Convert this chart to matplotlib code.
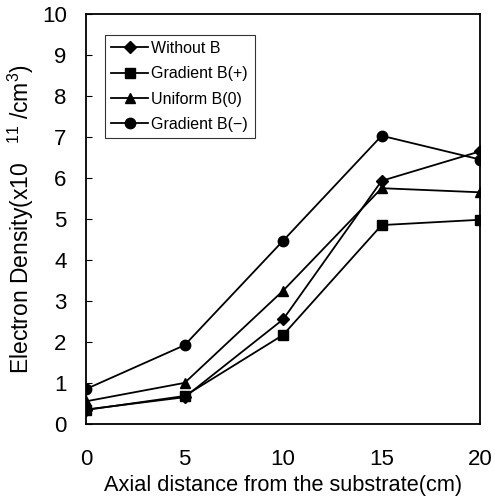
import matplotlib
matplotlib.use("Agg")
import matplotlib.pyplot as plt

plt.rcParams['font.family'] = ['Liberation Sans', 'DejaVu Sans']
plt.rcParams['mathtext.fontset'] = 'custom'
plt.rcParams['mathtext.rm'] = 'Liberation Sans'

distance = [0, 5, 10, 15, 20]
without_b = [0.35, 0.65, 2.55, 5.93, 6.65]
gradient_plus = [0.34, 0.68, 2.17, 4.85, 4.98]
uniform_b0 = [0.55, 1.0, 3.25, 5.75, 5.65]
gradient_minus = [0.85, 1.92, 4.47, 7.03, 6.45]

series = [
    ("Without B", without_b, "D", 6),
    ("Gradient B(+)", gradient_plus, "s", 7),
    ("Uniform B(0)", uniform_b0, "^", 7),
    ("Gradient B(\u2212)", gradient_minus, "o", 7.5),
]

fig = plt.figure(figsize=(4.95, 5.01), dpi=100)
ax = fig.add_axes([0.174, 0.154, 0.796, 0.818])

for label, vals, marker, ms in series:
    ax.plot(distance, vals, color="black", lw=1.3, marker=marker,
            markersize=ms, markerfacecolor="black", markeredgecolor="black",
            label=label)

ax.set_xlim(0, 20)
ax.set_ylim(0, 10)
ax.set_xticks([0, 5, 10, 15, 20])
ax.set_yticks(range(0, 11))
ax.tick_params(axis="x", length=0, pad=18, labelsize=16)
ax.tick_params(axis="y", direction="in", length=4, pad=14, labelsize=16)
for s in ax.spines.values():
    s.set_linewidth(1.3)

ax.set_xlabel("Axial distance from the substrate(cm)", fontsize=15.7, labelpad=4)
ax.set_ylabel(r"Electron Density(x10   $^{11}$ /cm$^{3}$)", fontsize=16.5, labelpad=4)

leg = ax.legend(loc="upper left", bbox_to_anchor=(0.048, 0.95), fontsize=11.5,
                frameon=True, fancybox=False, edgecolor="black",
                handlelength=2.3, handletextpad=0.2, borderpad=0.4,
                labelspacing=0.65, borderaxespad=0)
leg.get_frame().set_linewidth(0.8)

fig.savefig("out.png", dpi=100)
